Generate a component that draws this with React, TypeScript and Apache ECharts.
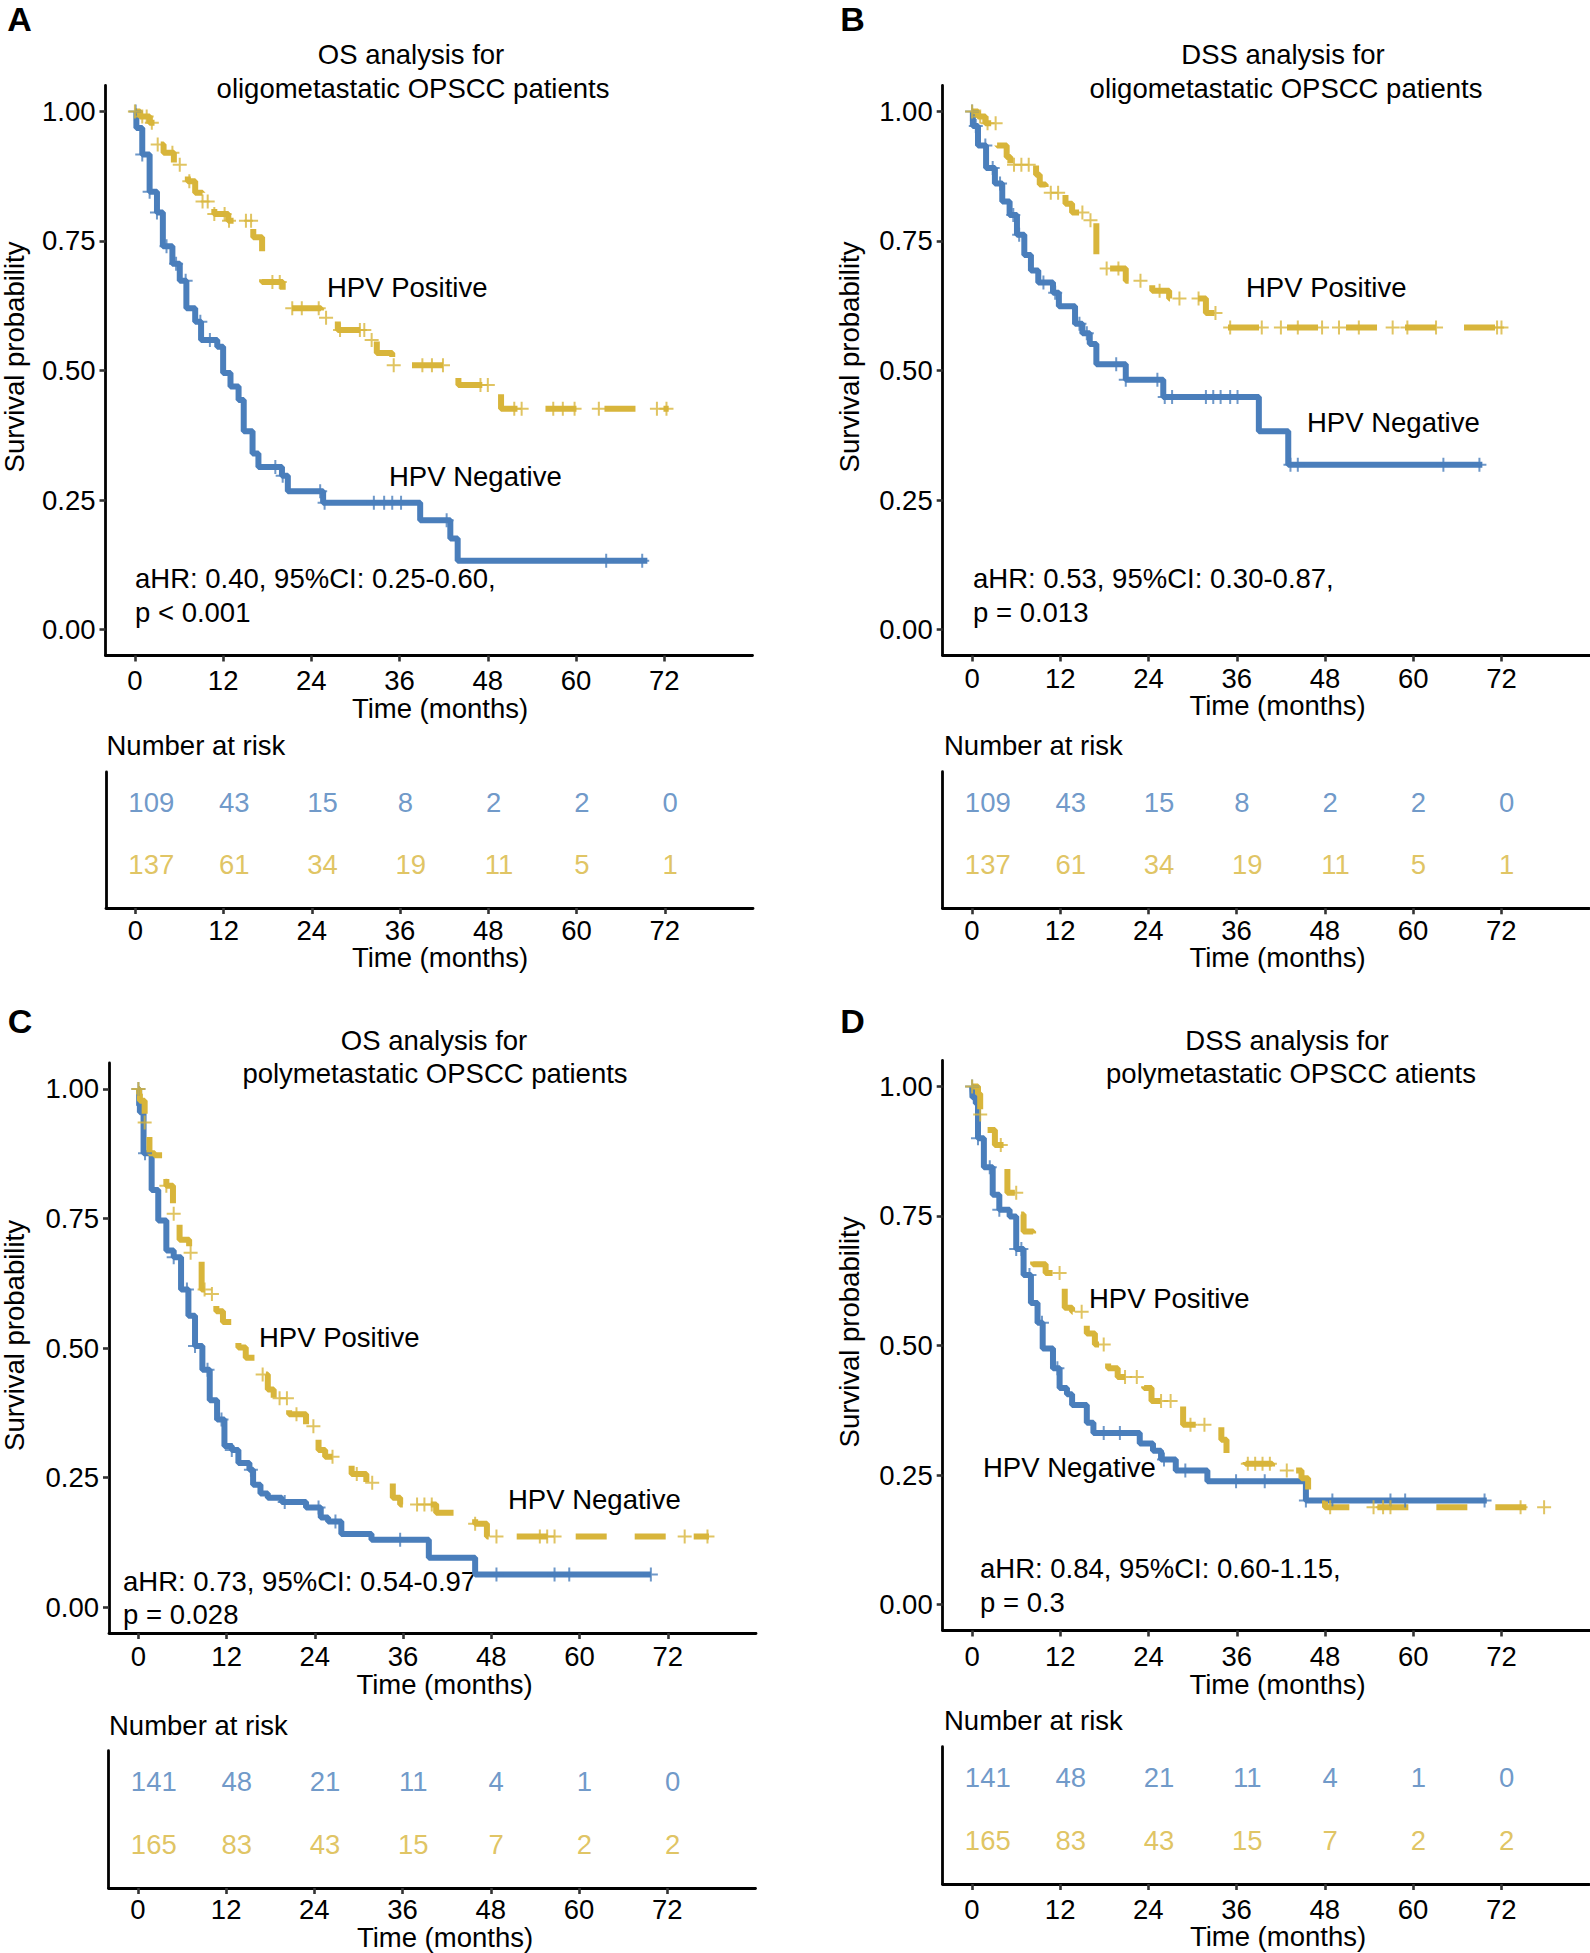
import React, { useEffect, useRef } from "react";
import * as echarts from "echarts";

const BLUE = "#4A7EBB";
const GOLD = "#D8B53B";
const FONT = '"Liberation Sans", Arial, Helvetica, sans-serif';
const FS = 27.5;

const xTicks = [0, 12, 24, 36, 48, 60, 72];
const yTicks = [0, 0.25, 0.5, 0.75, 1];

// ---------- Panel A: OS, oligometastatic ----------
const aNegCurve = [
  [0, 1.0], [0.2, 0.968], [1.0, 0.917], [2.0, 0.845], [3.0, 0.805], [3.8, 0.74], [5.1, 0.706],
  [6.1, 0.673], [7.0, 0.62], [8.2, 0.594], [9.0, 0.559], [11.2, 0.546], [12.0, 0.495],
  [13.0, 0.469], [14.1, 0.443], [14.8, 0.383], [16.0, 0.34], [16.8, 0.314], [20.0, 0.297],
  [20.8, 0.267], [25.6, 0.245], [38.8, 0.211], [42.9, 0.176], [43.9, 0.133], [69.7, 0.133],
];
const aNegCensor = [0.1, 1.0, 2.0, 3.0, 4.3, 5.6, 6.9, 8.9, 10.2, 19.1, 20.1, 25.2, 25.8, 32.5, 33.9, 35.0, 36.2, 42.4, 64.1, 69.0];
const aPosCurve = [
  [0, 1.0], [0.7, 0.99], [2.0, 0.978], [3.0, 0.936], [3.9, 0.92], [5.3, 0.897], [7.2, 0.865],
  [8.2, 0.843], [9.2, 0.826], [10.8, 0.802], [12.7, 0.789], [16.1, 0.757], [17.3, 0.671],
  [20.1, 0.65], [21.2, 0.62], [25.3, 0.602], [27.6, 0.578], [32.2, 0.559], [32.9, 0.534],
  [35.0, 0.51], [44.0, 0.472], [49.8, 0.426], [72.6, 0.426],
];
const aPosCensor = [0, 1.0, 1.6, 2.3, 3.1, 5.1, 6.1, 7.4, 9.2, 9.9, 10.8, 12.2, 12.8, 15.1, 15.8, 18.7, 19.7, 21.4, 22.7, 25.0, 26.0, 27.9, 30.6, 31.2, 32.2, 35.2, 39.1, 40.4, 41.9, 47.0, 48.0, 51.6, 52.6, 56.9, 58.2, 59.8, 63.1, 71.0, 72.3];
const aNegRisk = [109, 43, 15, 8, 2, 2, 0];
const aPosRisk = [137, 61, 34, 19, 11, 5, 1];

// ---------- Panel B: DSS, oligometastatic ----------
const bNegCurve = [
  [0, 1.0], [0.1, 0.972], [0.8, 0.934], [1.9, 0.891], [3.1, 0.861], [4.1, 0.826], [5.1, 0.8],
  [6.1, 0.762], [7.1, 0.723], [8.0, 0.693], [9.0, 0.67], [11.0, 0.65], [11.8, 0.624],
  [14.0, 0.59], [15.0, 0.572], [16.0, 0.551], [16.9, 0.512], [20.9, 0.482], [26.0, 0.449],
  [39.0, 0.383], [43.0, 0.318], [69.4, 0.318],
];
const bNegCensor = [0, 0.5, 1.8, 2.8, 3.8, 5.6, 6.4, 9.7, 11.3, 14.6, 15.6, 19.6, 20.9, 25.2, 26.2, 27.2, 31.8, 32.8, 33.8, 35.1, 36.1, 43.3, 44.3, 64.1, 69.0];
const bPosCurve = [
  [0, 1.0], [0.8, 0.99], [1.8, 0.977], [3.4, 0.934], [4.7, 0.912], [5.2, 0.897], [8.7, 0.878],
  [9.2, 0.859], [10.0, 0.843], [12.7, 0.822], [13.6, 0.805], [15.8, 0.79], [16.9, 0.697],
  [20.9, 0.673], [24.5, 0.654], [26.8, 0.639], [31.8, 0.611], [34.1, 0.583], [72.7, 0.583],
];
const bPosCensor = [0, 1.1, 2.1, 3.2, 5.7, 6.7, 7.7, 10.7, 11.7, 15.0, 16.1, 18.3, 19.9, 22.9, 25.5, 28.2, 30.8, 33.1, 35.1, 39.4, 42.0, 44.3, 47.6, 49.9, 52.6, 57.2, 59.2, 63.1, 71.4, 72.0];
const bNegRisk = [109, 43, 15, 8, 2, 2, 0];
const bPosRisk = [137, 61, 34, 19, 11, 5, 1];

// ---------- Panel C: OS, polymetastatic ----------
const cNegCurve = [
  [0, 1.0], [0.1, 0.968], [0.2, 0.955], [0.7, 0.876], [1.8, 0.805], [2.7, 0.746], [3.8, 0.688],
  [4.8, 0.675], [5.8, 0.613], [6.8, 0.562], [7.7, 0.504], [8.7, 0.458], [9.7, 0.399],
  [10.7, 0.362], [11.7, 0.311], [12.7, 0.303], [13.6, 0.278], [15.1, 0.265], [15.6, 0.236],
  [16.6, 0.219], [17.6, 0.211], [19.5, 0.203], [22.8, 0.192], [24.8, 0.173], [25.8, 0.165],
  [27.6, 0.141], [31.7, 0.13], [39.5, 0.095], [45.8, 0.063], [69.7, 0.063],
];
const cNegCensor = [0, 0.9, 4.8, 6.6, 7.7, 9.4, 11.3, 12.7, 15.3, 19.9, 24.5, 26.8, 35.6, 48.7, 56.6, 58.6, 69.7];
const cPosCurve = [
  [0, 1.0], [0.1, 0.99], [0.2, 0.977], [0.85, 0.935], [1.5, 0.876], [2.2, 0.872], [3.8, 0.813],
  [4.7, 0.759], [5.6, 0.709], [6.9, 0.684], [8.6, 0.613], [9.7, 0.604], [10.6, 0.571],
  [11.5, 0.55], [13.6, 0.501], [14.6, 0.481], [16.9, 0.449], [17.6, 0.42], [18.4, 0.403],
  [20.5, 0.372], [22.8, 0.349], [24.5, 0.303], [25.4, 0.29], [29.0, 0.257], [31.0, 0.24],
  [34.6, 0.211], [35.6, 0.198], [40.5, 0.182], [45.8, 0.161], [47.4, 0.136], [77.6, 0.136],
];
const cPosCensor = [0, 0.85, 3.8, 4.8, 7.1, 9.0, 10.0, 16.9, 19.2, 20.2, 21.5, 23.8, 26.4, 29.7, 31.8, 37.9, 38.9, 39.9, 45.8, 48.7, 54.6, 55.6, 56.6, 74.3, 77.4];
const cNegRisk = [141, 48, 21, 11, 4, 1, 0];
const cPosRisk = [165, 83, 43, 15, 7, 2, 2];

// ---------- Panel D: DSS, polymetastatic ----------
const dNegCurve = [
  [0, 1.0], [0.05, 0.979], [0.5, 0.967], [0.8, 0.9], [1.6, 0.844], [2.8, 0.791], [3.7, 0.762],
  [5.1, 0.749], [6.0, 0.686], [7.0, 0.636], [8.0, 0.582], [8.9, 0.544], [9.6, 0.494],
  [11.0, 0.456], [11.9, 0.418], [12.9, 0.406], [13.6, 0.385], [15.6, 0.351], [16.5, 0.331],
  [22.8, 0.311], [24.6, 0.297], [25.7, 0.28], [27.7, 0.259], [32.0, 0.238], [45.4, 0.201], [70.0, 0.201],
];
const dNegCensor = [0, 0.8, 2.4, 3.7, 6.0, 6.7, 7.8, 9.5, 11.6, 17.9, 20.1, 26.1, 29.0, 35.9, 39.8, 45.4, 49.0, 56.9, 58.9, 69.7];
const dPosCurve = [
  [0, 1.0], [0.8, 0.986], [1.1, 0.946], [2.1, 0.916], [3.1, 0.887], [4.8, 0.795], [6.4, 0.753],
  [7.0, 0.72], [8.3, 0.657], [10.0, 0.64], [12.6, 0.573], [13.6, 0.565], [15.6, 0.523],
  [16.7, 0.502], [18.5, 0.456], [19.8, 0.439], [23.4, 0.418], [24.4, 0.393], [28.7, 0.347],
  [33.9, 0.318], [34.6, 0.289], [37.2, 0.272], [40.8, 0.259], [44.8, 0.244], [45.7, 0.218],
  [48.0, 0.188], [77.9, 0.188],
];
const dPosCensor = [0, 1.1, 3.9, 6.0, 11.9, 14.9, 17.9, 20.8, 22.4, 25.7, 27.0, 29.7, 31.6, 37.5, 38.5, 39.5, 40.5, 42.8, 48.7, 54.6, 55.9, 56.9, 74.6, 77.8];
const dNegRisk = [141, 48, 21, 11, 4, 1, 0];
const dPosRisk = [165, 83, 43, 15, 7, 2, 2];

// ---------- layout ----------
const panels = [
  {
    letter: "A", title: ["OS analysis for", "oligometastatic OPSCC patients"],
    stat: ["aHR: 0.40, 95%CI: 0.25-0.60,", "p < 0.001"],
    neg: aNegCurve, negC: aNegCensor, pos: aPosCurve, posC: aPosCensor, negR: aNegRisk, posR: aPosRisk,
    plot: { left: 105.5, top: 85.5, width: 647, height: 570 }, xm: 11,
    risk: { left: 106, top: 772, width: 647, height: 136 }, rm: 8.5,
    pLetter: [19.5, 18.5], pT1: [411, 54.5], pT2: [413, 88.5], pPos: [327, 287.6], pNeg: [389, 476.5],
    pS1: [135, 578], pS2: [135, 612], pY: [14.5, 357], pX: [440, 708], pN: [106.5, 745], pX2: [440, 957],
  },
  {
    letter: "B", title: ["DSS analysis for", "oligometastatic OPSCC patients"],
    stat: ["aHR: 0.53, 95%CI: 0.30-0.87,", "p = 0.013"],
    neg: bNegCurve, negC: bNegCensor, pos: bPosCurve, posC: bPosCensor, negR: bNegRisk, posR: bPosRisk,
    plot: { left: 942.7, top: 85.5, width: 647, height: 570 }, xm: 9,
    risk: { left: 942.5, top: 771.7, width: 647, height: 136.6 }, rm: 8.5,
    pLetter: [852.5, 18.5], pT1: [1283, 54.5], pT2: [1286, 88.5], pPos: [1246, 287.7], pNeg: [1307, 422],
    pS1: [973, 578], pS2: [973, 612.5], pY: [849, 357], pX: [1277.5, 705], pN: [944, 745], pX2: [1277.5, 957.3],
  },
  {
    letter: "C", title: ["OS analysis for", "polymetastatic OPSCC patients"],
    stat: ["aHR: 0.73, 95%CI: 0.54-0.97", "p = 0.028"],
    neg: cNegCurve, negC: cNegCensor, pos: cPosCurve, posC: cPosCensor, negR: cNegRisk, posR: cPosRisk,
    plot: { left: 109, top: 1063, width: 647, height: 570 }, xm: 9.5,
    risk: { left: 108.5, top: 1750.7, width: 647, height: 137.3 }, rm: 7.5,
    pLetter: [20, 1021], pT1: [434, 1040], pT2: [435, 1073], pPos: [259, 1337], pNeg: [508, 1499.5],
    pS1: [123, 1581], pS2: [123, 1614], pY: [14, 1335.5], pX: [444.5, 1684.5], pN: [109, 1725], pX2: [445, 1937.5],
  },
  {
    letter: "D", title: ["DSS analysis for", "polymetastatic OPSCC atients"],
    stat: ["aHR: 0.84, 95%CI: 0.60-1.15,", "p = 0.3"],
    neg: dNegCurve, negC: dNegCensor, pos: dPosCurve, posC: dPosCensor, negR: dNegRisk, posR: dPosRisk,
    plot: { left: 942.7, top: 1060.5, width: 647, height: 570 }, xm: 12,
    risk: { left: 942.5, top: 1746.7, width: 647, height: 137.3 }, rm: 11.5,
    pLetter: [852.5, 1021], pT1: [1287, 1040], pT2: [1291, 1073], pPos: [1089, 1298], pNeg: [983, 1467],
    pS1: [980, 1568], pS2: [980, 1602.5], pY: [849.5, 1332], pX: [1277.5, 1684], pN: [944, 1720.7], pX2: [1278, 1936.7],
  },
];

const PLUS = "path://M6,0h2v6h6v2h-6v6h-2v-6h-6v-2h6z";

function stepAt(curve: number[][], t: number) {
  let s = curve[0][1];
  for (const [ct, cs] of curve) {
    if (ct <= t) s = cs;
    else break;
  }
  return s;
}

function txt(x: number, y: number, text: string, align = "left", extra: any = {}) {
  return {
    type: "text",
    x,
    y,
    rotation: extra.rotation || 0,
    style: {
      text,
      fill: "#000",
      font: extra.font || `${FS}px ${FONT}`,
      textAlign: align,
      textVerticalAlign: "middle",
    },
  };
}

function buildOption() {
  const grid: any[] = [];
  const xAxis: any[] = [];
  const yAxis: any[] = [];
  const series: any[] = [];
  const elements: any[] = [];

  const axisLine = { show: true, onZero: false, lineStyle: { color: "#000", width: 2.8 } };
  const axisTickStyle = { color: "#333", width: 2.6 };
  const labelStyle = { color: "#000", fontSize: FS, fontFamily: FONT };

  panels.forEach((p, i) => {
    const gi = i * 2;
    grid.push({ ...p.plot, containLabel: false });
    grid.push({ ...p.risk, containLabel: false });

    // plot axes
    xAxis.push({
      type: "value", gridIndex: gi, min: -4, max: 84, position: "bottom",
      axisLine,
      axisTick: { show: true, length: 6, customValues: xTicks, lineStyle: axisTickStyle },
      axisLabel: { ...labelStyle, customValues: xTicks, margin: p.xm },
      splitLine: { show: false },
    });
    yAxis.push({
      type: "value", gridIndex: gi, min: -0.05, max: 1.05, position: "left",
      axisLine,
      axisTick: { show: true, length: 6, customValues: yTicks, lineStyle: axisTickStyle },
      axisLabel: { ...labelStyle, customValues: yTicks, margin: 10, formatter: (v: number) => v.toFixed(2) },
      splitLine: { show: false },
    });
    // risk table axes
    xAxis.push({
      type: "value", gridIndex: gi + 1, min: -4, max: 84, position: "bottom",
      axisLine,
      axisTick: { show: true, length: 6, customValues: xTicks, lineStyle: axisTickStyle },
      axisLabel: { ...labelStyle, customValues: xTicks, margin: p.rm },
      splitLine: { show: false },
    });
    yAxis.push({
      type: "value", gridIndex: gi + 1, min: 0.3, max: 2.5, position: "left",
      axisLine,
      axisTick: { show: false },
      axisLabel: { show: false },
      splitLine: { show: false },
    });

    // curves
    series.push({
      type: "line", xAxisIndex: gi, yAxisIndex: gi, step: "end", showSymbol: false, symbol: "none",
      data: p.neg, lineStyle: { color: BLUE, width: 6, cap: "butt" }, z: 3,
    });
    series.push({
      type: "line", xAxisIndex: gi, yAxisIndex: gi, step: "end", showSymbol: false, symbol: "none",
      data: p.pos, lineStyle: { color: GOLD, width: 6, type: [31, 28], cap: "butt" }, z: 4,
    });
    series.push({
      type: "scatter", xAxisIndex: gi, yAxisIndex: gi, symbol: PLUS, symbolSize: 14,
      data: p.negC.map((t) => [t, stepAt(p.neg, t)]), itemStyle: { color: BLUE }, z: 5,
    });
    series.push({
      type: "scatter", xAxisIndex: gi, yAxisIndex: gi, symbol: PLUS, symbolSize: 14,
      data: p.posC.map((t) => [t, stepAt(p.pos, t)]), itemStyle: { color: GOLD }, z: 6,
    });

    // risk table
    const riskSeries = (vals: number[], row: number, color: string) => ({
      type: "scatter", xAxisIndex: gi + 1, yAxisIndex: gi + 1, symbolSize: 1,
      itemStyle: { color: "rgba(0,0,0,0)" },
      data: vals.map((n, k) => ({
        value: [xTicks[k], row, n],
        label: { offset: [5.3 * String(n).length, 0] },
      })),
      label: {
        show: true, position: "inside", color, fontSize: FS, fontFamily: FONT,
        formatter: (q: any) => String(q.value[2]),
      },
      z: 5,
    });
    series.push(riskSeries(p.negR, 2, BLUE));
    series.push(riskSeries(p.posR, 1, GOLD));

    // texts
    elements.push(txt(p.pLetter[0], p.pLetter[1], p.letter, "center", { font: `bold 34px ${FONT}` }));
    elements.push(txt(p.pT1[0], p.pT1[1], p.title[0], "center"));
    elements.push(txt(p.pT2[0], p.pT2[1], p.title[1], "center"));
    elements.push(txt(p.pPos[0], p.pPos[1], "HPV Positive"));
    elements.push(txt(p.pNeg[0], p.pNeg[1], "HPV Negative"));
    elements.push(txt(p.pS1[0], p.pS1[1], p.stat[0]));
    elements.push(txt(p.pS2[0], p.pS2[1], p.stat[1]));
    elements.push(txt(p.pY[0], p.pY[1], "Survival probability", "center", { rotation: Math.PI / 2 }));
    elements.push(txt(p.pX[0], p.pX[1], "Time (months)", "center"));
    elements.push(txt(p.pN[0], p.pN[1], "Number at risk"));
    elements.push(txt(p.pX2[0], p.pX2[1], "Time (months)", "center"));
  });

  return {
    animation: false,
    backgroundColor: "#ffffff",
    grid,
    xAxis,
    yAxis,
    series,
    graphic: { elements },
  };
}

export default function App() {
  const ref = useRef<HTMLDivElement>(null);
  useEffect(() => {
    if (!ref.current) return;
    const chart = echarts.init(ref.current, undefined, { renderer: "svg" });
    chart.setOption(buildOption() as any);
    return () => chart.dispose();
  }, []);
  return (
    <div
      ref={ref}
      style={{ position: "absolute", left: 0, top: 0, width: 1590, height: 1953, background: "#fff" }}
    />
  );
}
